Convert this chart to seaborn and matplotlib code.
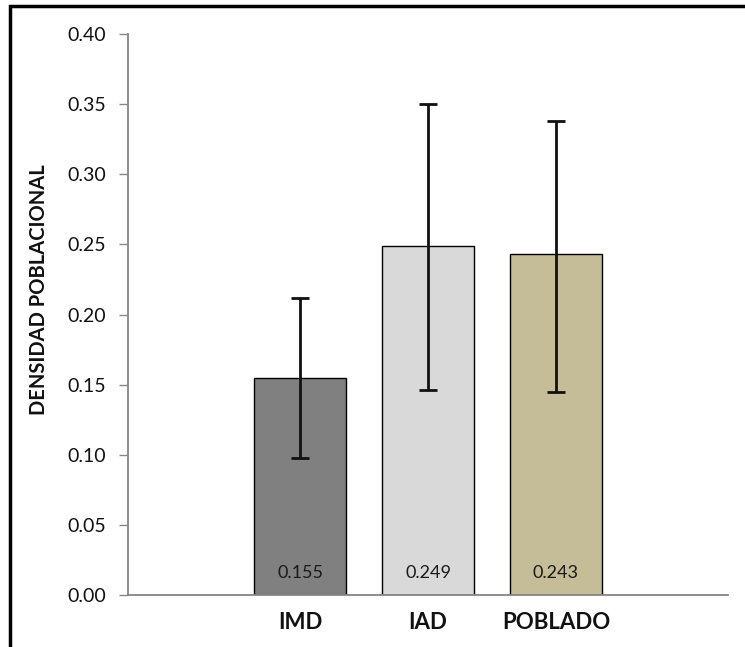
import matplotlib
matplotlib.use("Agg")
import matplotlib.pyplot as plt
import seaborn as sns
import pandas as pd
from matplotlib.patches import Rectangle

categories = ["IMD", "IAD", "POBLADO"]
values = [0.155, 0.249, 0.243]
err_low = [0.098, 0.146, 0.145]
err_high = [0.212, 0.350, 0.338]
value_labels = ["0.155", "0.249", "0.243"]
colors = ["#808080", "#D9D9D9", "#C4BD97"]
yticks = [0.00, 0.05, 0.10, 0.15, 0.20, 0.25, 0.30, 0.35, 0.40]
ylabel = "DENSIDAD POBLACIONAL"

sns.set_style("white")
plt.rcParams["font.family"] = ["Lato", "DejaVu Sans"]

W, H = 745, 647
fig = plt.figure(figsize=(W / 100, H / 100), dpi=100)
ax = fig.add_axes([128 / W, 1 - 595 / H, 600 / W, 561 / H])

df = pd.DataFrame({"cat": categories, "val": values})
sns.barplot(data=df, x="cat", y="val", hue="cat", palette=colors, order=categories,
            hue_order=categories, saturation=1, width=0.72, edgecolor="black",
            linewidth=1.0, errorbar=None, legend=False, ax=ax, zorder=2)

xs = list(range(len(categories)))
lower = [v - lo for v, lo in zip(values, err_low)]
upper = [hi - v for v, hi in zip(values, err_high)]
ax.errorbar(xs, values, yerr=[lower, upper], fmt="none", ecolor="#111111",
            elinewidth=2.0, capsize=6.5, capthick=2.0, zorder=3)

for x, lab in zip(xs, value_labels):
    ax.text(x, 0.0155, lab, ha="center", va="center", fontsize=13, color="#1a1a1a", zorder=4)

ax.set_xlim(-1.345, 2 + 1.345)
ax.set_ylim(0, 0.40)
ax.set_yticks(yticks)
ax.set_yticklabels([f"{t:.2f}" for t in yticks])
ax.set_xlabel("")
ax.set_ylabel("")

for s in ["top", "right"]:
    ax.spines[s].set_visible(False)
for s in ["left", "bottom"]:
    ax.spines[s].set_color("#868686")
    ax.spines[s].set_linewidth(1.3)

ax.tick_params(axis="y", which="both", left=True, length=6.5, width=1.0, color="#868686",
               direction="out", pad=9, labelsize=14, labelcolor="#111111")
ax.tick_params(axis="x", which="both", bottom=False, length=0, pad=12, labelsize=16)
for lab in ax.get_xticklabels():
    lab.set_fontweight("bold")
    lab.set_color("#111111")

fig.text(39.5 / W, 1 - 289.5 / H, ylabel, rotation=90, ha="center", va="center",
         fontsize=14.5, fontweight="bold", color="#111111")

fig.patches.append(Rectangle((10 / W, -10 / H), (W + 10) / W, (H + 4) / H,
                             transform=fig.transFigure, fill=False,
                             edgecolor="black", linewidth=2.5, zorder=10))

fig.savefig("out.png", dpi=100)
